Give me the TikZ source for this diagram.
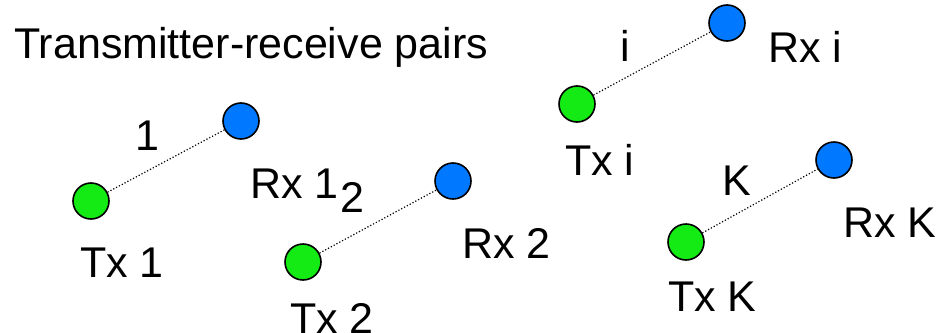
\documentclass[tikz,border=0pt]{standalone}
\usepackage{fontspec}
\setmainfont{Liberation Sans}
\definecolor{txgreen}{RGB}{20,235,20}
\definecolor{rxblue}{RGB}{0,120,255}
\begin{document}
\begin{tikzpicture}[x=1pt,y=-1pt,
  tx/.style={circle,draw=black,line width=1.6pt,fill=txgreen,minimum size=36pt,inner sep=0pt},
  rx/.style={circle,draw=black,line width=1.6pt,fill=rxblue,minimum size=36pt,inner sep=0pt},
  link/.style={line width=1.2pt,dotted},
  lbl/.style={anchor=base west,inner sep=0pt,font=\fontsize{43}{50}\selectfont}]
\useasboundingbox (0,0) rectangle (936,332);
\node[lbl] (title) at (14,58) {Transmitter-receive pairs};
% pair 1
\node[tx] (t1) at (91,201) {};
\node[rx] (r1) at (241,121) {};
\draw[link] (t1) -- (r1);
\node[lbl] (n1) at (135,150) {1};
\node[lbl] (lr1) at (250,198) {Rx 1};
\node[lbl] (lt1) at (80,277) {Tx 1};
% pair 2
\node[tx] (t2) at (303,262) {};
\node[rx] (r2) at (453,181) {};
\draw[link] (t2) -- (r2);
\node[lbl] (n2) at (340,212) {2};
\node[lbl] (lr2) at (462,258) {Rx 2};
\node[lbl] (lt2) at (290,333) {Tx 2};
% pair i
\node[tx] (ti) at (577,104) {};
\node[rx] (ri) at (727,23) {};
\draw[link] (ti) -- (ri);
\node[lbl] (ni) at (620,61) {i};
\node[lbl] (lri) at (768,62) {Rx i};
\node[lbl] (lti) at (565,175) {Tx i};
% pair K
\node[tx] (tk) at (686,242) {};
\node[rx] (rk) at (834,160) {};
\draw[link] (tk) -- (rk);
\node[lbl] (nk) at (722,195) {K};
\node[lbl] (lrk) at (843,237) {Rx K};
\node[lbl] (ltk) at (668,311) {Tx K};
\end{tikzpicture}
\end{document}
